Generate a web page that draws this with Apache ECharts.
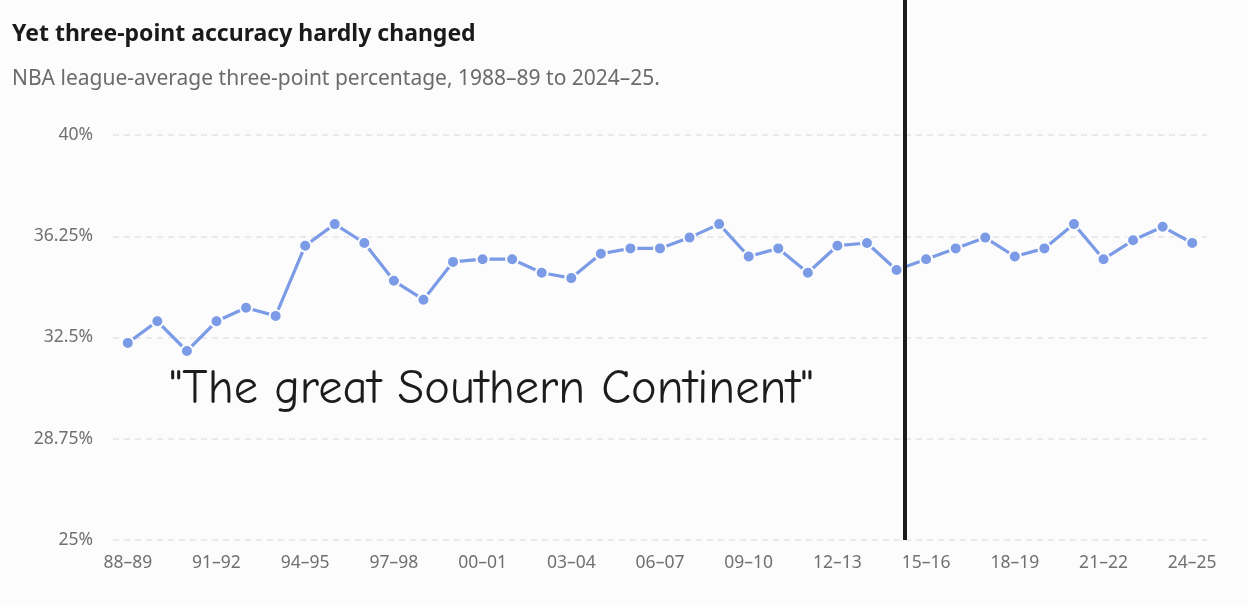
<!DOCTYPE html>
<html>
<head>
<meta charset="utf-8">
<script src="https://cdn.jsdelivr.net/npm/echarts@6/dist/echarts.min.js"></script>
<style>
html,body{margin:0;padding:0;background:#fcfcfc;}
#chart{width:1248px;height:605px;}
</style>
</head>
<body>
<div id="chart"></div>
<script>
const seasons = ['88–89','89–90','90–91','91–92','92–93','93–94','94–95','95–96','96–97','97–98','98–99','99–00','00–01','01–02','02–03','03–04','04–05','05–06','06–07','07–08','08–09','09–10','10–11','11–12','12–13','13–14','14–15','15–16','16–17','17–18','18–19','19–20','20–21','21–22','22–23','23–24','24–25'];
const threePct = [32.3,33.1,32.0,33.1,33.6,33.3,35.9,36.7,36.0,34.6,33.9,35.3,35.4,35.4,34.9,34.7,35.6,35.8,35.8,36.2,36.7,35.5,35.8,34.9,35.9,36.0,35.0,35.4,35.8,36.2,35.5,35.8,36.7,35.4,36.1,36.6,36.0];
const yTicks = [25, 28.75, 32.5, 36.25, 40];

const chart = echarts.init(document.getElementById('chart'));
chart.setOption({
  backgroundColor: '#fcfcfc',
  animation: false,
  title: [
    {text: 'Yet three-point accuracy hardly changed', left: 7, top: 18,
     textStyle: {fontFamily: 'Noto Sans', fontSize: 23, fontWeight: 'bold', color: '#1a1a1a'}},
    {text: 'NBA league-average three-point percentage, 1988–89 to 2024–25.', left: 7, top: 64,
     textStyle: {fontFamily: 'Noto Sans', fontSize: 21, fontWeight: 'normal', color: '#6b6b6b'}}
  ],
  grid: {left: 113, right: 41, top: 135, bottom: 65},
  xAxis: {
    type: 'category',
    data: seasons,
    boundaryGap: true,
    axisLine: {show: false},
    axisTick: {show: false},
    axisLabel: {interval: 2, margin: 14, fontFamily: 'Noto Sans', fontSize: 17.5, color: '#707070'}
  },
  yAxis: {
    type: 'value',
    min: yTicks[0], max: yTicks[yTicks.length - 1], interval: yTicks[1] - yTicks[0],
    axisLine: {show: false},
    axisTick: {show: false},
    axisLabel: {margin: 20, fontFamily: 'Noto Sans', fontSize: 17.5, color: '#707070', formatter: v => v + '%'},
    splitLine: {lineStyle: {color: '#e4e4e4', type: [6, 5], width: 1.5}}
  },
  series: [{
    type: 'line',
    data: threePct,
    symbol: 'circle',
    symbolSize: 12,
    lineStyle: {color: '#7b9be6', width: 3.2},
    itemStyle: {color: '#7b9be6', borderColor: '#fcfcfc', borderWidth: 2}
  }],
  graphic: [
    {type: 'line', shape: {x1: 905, y1: 0, x2: 905, y2: 540}, style: {stroke: '#1c1c1c', lineWidth: 4}, z: 100},
    {type: 'text', left: 169, top: 365, z: 100,
     style: {text: '"The great Southern Continent"', fontFamily: "'Comic Sans MS', 'Comic Neue', cursive", fontSize: 48.5, fill: '#1c1c1c'}}
  ]
});
</script>
</body>
</html>
